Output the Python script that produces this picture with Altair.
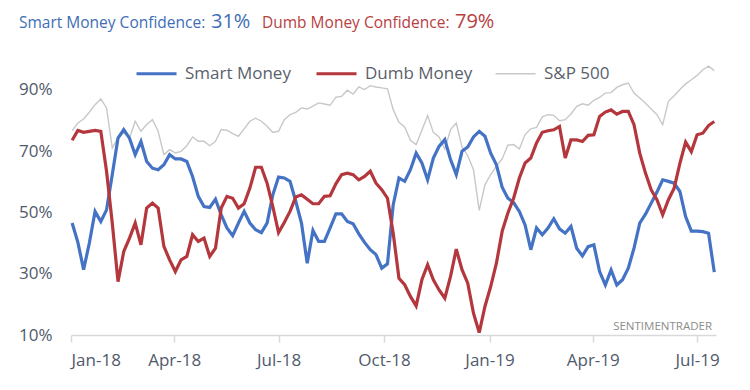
import altair as alt
import pandas as pd

# ---- data (one point every 5 calendar days) ----
dates = pd.date_range("2018-01-02", periods=113, freq="5D").strftime("%Y-%m-%dT00:00:00").tolist()

smart = [
    46.5, 40.2, 31.3, 40.0, 50.3, 47.0, 50.8, 62.3, 74.2, 77.0, 74.2, 68.8, 73.1, 66.6,
    64.4, 63.9, 65.5, 68.8, 67.4, 67.4, 66.6, 61.7, 55.2, 51.9, 51.6, 54.3, 49.2, 44.9,
    42.4, 46.5, 50.3, 46.5, 44.3, 43.4, 46.5, 55.7, 61.5, 61.2, 60.1, 53.6, 46.5, 33.4,
    44.1, 40.5, 40.5, 44.9, 49.5, 49.5, 47.0, 46.3, 43.0, 40.2, 37.8, 36.2, 31.8, 33.2,
    52.5, 61.2, 60.1, 63.9, 69.3, 66.1, 60.6, 67.7, 71.5, 73.7, 67.2, 62.3, 69.9, 71.3,
    74.6, 76.4, 74.8, 69.3, 65.5, 58.2, 54.6, 53.2, 50.3, 45.9, 37.8, 44.9, 42.7, 44.9,
    47.9, 44.6, 43.2, 45.4, 38.3, 35.8, 38.8, 39.4, 30.7, 26.3, 31.2, 26.3, 28.0, 31.8,
    38.3, 46.5, 49.4, 53.0, 56.6, 60.6, 60.1, 59.5, 56.8, 48.6, 43.9, 43.9, 43.7, 43.2,
    30.5,
]

dumb = [
    73.5, 76.7, 76.1, 76.4, 76.7, 76.4, 63.4, 46.5, 27.4, 37.2, 41.6, 46.5, 39.4, 51.4,
    53.0, 51.4, 38.9, 34.5, 30.7, 34.5, 35.6, 42.7, 40.5, 41.6, 35.6, 38.3, 51.4, 55.2,
    54.6, 51.4, 52.8, 57.9, 64.7, 64.7, 59.5, 51.9, 43.4, 46.7, 50.3, 55.0, 55.7, 54.3,
    52.8, 52.8, 55.2, 55.4, 59.3, 62.3, 62.8, 62.3, 60.6, 61.7, 63.4, 59.5, 57.4, 54.6,
    43.2, 28.5, 26.4, 22.6, 19.5, 28.0, 32.9, 28.0, 24.7, 22.0, 29.1, 38.0, 31.3, 26.9,
    17.1, 10.8, 19.3, 25.8, 33.4, 43.8, 49.8, 54.6, 61.2, 66.1, 67.7, 72.6, 76.1, 76.6,
    76.9, 78.0, 67.7, 73.6, 73.6, 73.1, 75.1, 75.3, 81.3, 82.7, 83.4, 82.0, 82.9, 82.9,
    78.6, 69.3, 62.8, 57.3, 54.1, 49.2, 54.1, 57.9, 66.0, 72.9, 69.8, 75.3, 75.8, 78.3,
    79.6,
]

sp500 = [
    2722, 2757, 2775, 2806, 2841, 2867, 2826, 2643, 2688, 2711, 2688, 2765, 2719, 2750,
    2772, 2719, 2612, 2635, 2620, 2627, 2653, 2693, 2673, 2673, 2653, 2673, 2727, 2724,
    2708, 2696, 2730, 2765, 2779, 2765, 2742, 2714, 2719, 2772, 2795, 2806, 2826, 2821,
    2834, 2849, 2844, 2838, 2875, 2879, 2907, 2889, 2922, 2910, 2928, 2922, 2918, 2913,
    2818, 2760, 2739, 2678, 2658, 2724, 2791, 2714, 2693, 2638, 2727, 2757, 2647, 2607,
    2543, 2357, 2474, 2520, 2559, 2592, 2655, 2658, 2638, 2704, 2730, 2737, 2785, 2795,
    2792, 2767, 2772, 2798, 2833, 2845, 2838, 2861, 2874, 2894, 2896, 2920, 2932, 2940,
    2894, 2871, 2847, 2821, 2795, 2749, 2856, 2882, 2910, 2936, 2955, 2975, 3001, 3017,
    2997,
]

series_names = ["Smart Money", "Dumb Money", "S&P 500"]
y_ticks = [10, 30, 50, 70, 90]
smart_now = "31%"
dumb_now = "79%"

# ---- styling ----
BLUE = "#4472C4"
RED = "#B3373D"
GREY = "#C8C8C8"
TXT_BLUE = "#3E6DB5"
TXT_RED = "#B8403F"
LABEL = "#505A6B"
FONT = "Open Sans"

n = len(dates)
conf = pd.DataFrame({
    "date": dates * 2,
    "series": ["Smart Money"] * n + ["Dumb Money"] * n,
    "value": smart + dumb,
})
spdf = pd.DataFrame({"date": dates, "series": ["S&P 500"] * n, "value": sp500})

quarters = [alt.DateTime(year=y, month=m, date=1)
            for y, m in [(2018, 1), (2018, 4), (2018, 7), (2018, 10), (2019, 1), (2019, 4), (2019, 7)]]

x_axis = alt.Axis(values=quarters, format="%b-%y", grid=False, title=None,
                  domainColor="#D9D9D9", domainWidth=1.5, tickColor="#D9D9D9",
                  tickWidth=1.5, tickSize=7, labelFont=FONT, labelFontSize=17,
                  labelColor=LABEL, labelPadding=10)
x_enc = alt.X("date:T", axis=x_axis,
              scale=alt.Scale(domain=[alt.DateTime(year=2018, month=1, date=1),
                                      alt.DateTime(year=2019, month=7, date=17, hours=12)]))

legend = alt.Legend(orient="none", legendX=77, legendY=6, direction="horizontal",
                    title=None, symbolType="stroke", symbolSize=1600,
                    symbolStrokeWidth=alt.ExprRef("datum.value === 'S&P 500' ? 1.4 : 3"),
                    labelFont=FONT, labelFontSize=17, labelColor="#5A5F6B",
                    columnPadding=19, labelOffset=20, padding=0)
color_enc = alt.Color("series:N", scale=alt.Scale(domain=series_names, range=[BLUE, RED, GREY]),
                      legend=legend)

sp_layer = alt.Chart(spdf).mark_line(strokeWidth=1.4).encode(
    x=x_enc,
    y=alt.Y("value:Q", axis=None, scale=alt.Scale(domain=[1786, 3050], nice=False, zero=False)),
    color=color_enc,
)

conf_layer = alt.Chart(conf).mark_line(strokeWidth=3.2).encode(
    x=x_enc,
    y=alt.Y("value:Q", title=None,
            scale=alt.Scale(domain=[10, 100], nice=False, zero=False),
            axis=alt.Axis(values=y_ticks, labelExpr="datum.value + '%'", grid=False,
                          domain=False, ticks=False, labelPadding=19, labelFont=FONT,
                          labelFontSize=17, labelColor=LABEL)),
    color=color_enc,
)


def label(text, x, y, size, color, align="left"):
    return alt.Chart(pd.DataFrame({"t": [text]})).mark_text(
        align=align, baseline="alphabetic", font=FONT, fontSize=size, color=color
    ).encode(text="t:N", x=alt.value(x), y=alt.value(y))


texts = [
    label("Smart Money Confidence:", -52, -31, 15.5, TXT_BLUE),
    label(smart_now, 140, -31, 20, TXT_BLUE),
    label("Dumb Money Confidence:", 191, -31, 15.5, TXT_RED),
    label(dumb_now, 384, -31, 20, TXT_RED),
    label("SENTIMENTRADER", 641, 271, 11.5, "#8C8C8C", align="right"),
]

chart = alt.layer(sp_layer, conf_layer, *texts).resolve_scale(y="independent").properties(
    width=645, height=276,
    autosize=alt.AutoSizeParams(type="none"),
    padding={"left": 63, "top": 51, "right": 26, "bottom": 40},
).configure_view(strokeWidth=0)

chart.save("out.html", embed_options={"renderer": "svg", "actions": False})
